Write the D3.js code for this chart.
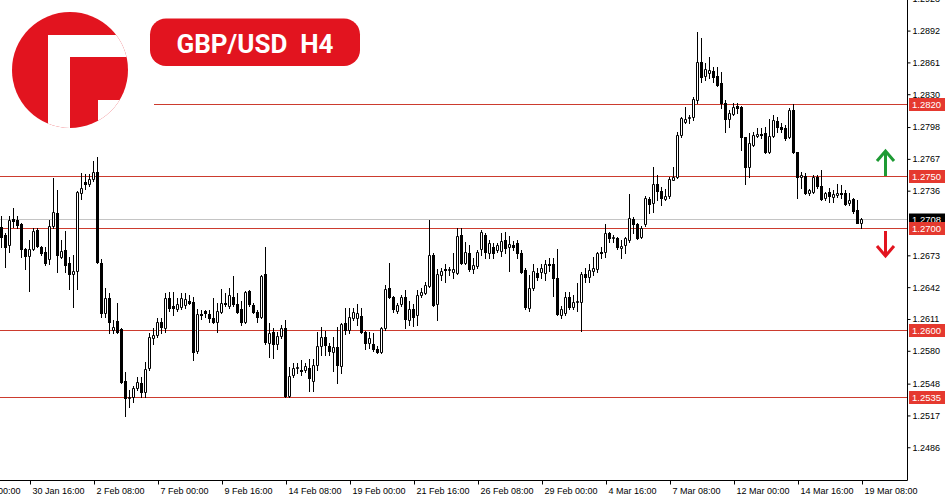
<!DOCTYPE html>
<html><head><meta charset="utf-8">
<script src="https://cdn.jsdelivr.net/npm/d3@7"></script>
<style>html,body{margin:0;padding:0;background:#fff;overflow:hidden}</style>
</head><body>
<svg id="chart" width="950" height="500"></svg>
<script>
const title = "GBP/USD  H4";
const firstBarTime = "29 Jan 12:00";
const open = [
1.2701,1.2693,1.2683,1.2708,1.2707,1.2704,1.2679,1.2672,1.2679,1.2698,
1.2681,1.2676,1.2669,1.2702,1.2714,1.2671,1.2678,1.2666,1.2655,1.2658,
1.2734,1.2744,1.2743,1.2747,1.2754,1.2666,1.2617,1.2631,1.2600,1.2609,
1.2601,1.2551,1.2534,1.2535,1.2544,1.2549,1.2540,1.2563,1.2592,1.2595,
1.2608,1.2602,1.2631,1.2624,1.2621,1.2623,1.2625,1.2629,1.2628,1.2580,
1.2616,1.2619,1.2616,1.2612,1.2608,1.2618,1.2627,1.2624,1.2632,1.2626,
1.2621,1.2608,1.2638,1.2625,1.2618,1.2613,1.2655,1.2588,1.2598,1.2587,
1.2594,1.2602,1.2536,1.2556,1.2563,1.2561,1.2561,1.2563,1.2551,1.2566,
1.2585,1.2593,1.2585,1.2579,1.2584,1.2565,1.2607,1.2600,1.2612,1.2612,
1.2614,1.2598,1.2588,1.2587,1.2582,1.2579,1.2602,1.2641,1.2632,1.2619,
1.2626,1.2632,1.2610,1.2621,1.2615,1.2634,1.2636,1.2643,1.2673,1.2626,
1.2654,1.2660,1.2659,1.2657,1.2656,1.2693,1.2666,1.2675,1.2660,1.2663,
1.2679,1.2693,1.2675,1.2681,1.2678,1.2677,1.2688,1.2681,1.2683,1.2685,
1.2675,1.2659,1.2622,1.2641,1.2656,1.2657,1.2656,1.2665,1.2665,1.2651,
1.2615,1.2617,1.2632,1.2623,1.2628,1.2628,1.2655,1.2652,1.2658,1.2660,
1.2676,1.2676,1.2695,1.2690,1.2690,1.2680,1.2683,1.2688,1.2708,1.2704,
1.2691,1.2704,1.2728,1.2724,1.2743,1.2736,1.2728,1.2731,1.2746,1.2749,
1.2790,1.2803,1.2807,1.2808,1.2824,1.2861,1.2848,1.2851,1.2853,1.2848,
1.2841,1.2821,1.2806,1.2811,1.2819,1.2818,1.2788,1.2759,1.2781,1.2789,
1.2791,1.2792,1.2774,1.2789,1.2804,1.2798,1.2797,1.2788,1.2815,1.2774,
1.2749,1.2750,1.2734,1.2735,1.2749,1.2741,1.2729,1.2735,1.2730,1.2732,
1.2734,1.2734,1.2724,1.2728,1.2717,1.2705];
const high = [
1.2711,1.2695,1.2711,1.2719,1.2711,1.2705,1.2680,1.2688,1.2700,1.2700,
1.2682,1.2681,1.2707,1.2748,1.2737,1.2688,1.2697,1.2671,1.2673,1.2736,
1.2753,1.2752,1.2752,1.2765,1.2769,1.2669,1.2641,1.2636,1.2610,1.2627,
1.2602,1.2559,1.2542,1.2546,1.2554,1.2554,1.2569,1.2597,1.2602,1.2612,
1.2612,1.2636,1.2637,1.2637,1.2631,1.2636,1.2636,1.2634,1.2632,1.2621,
1.2620,1.2620,1.2620,1.2631,1.2627,1.2640,1.2636,1.2641,1.2653,1.2636,
1.2629,1.2638,1.2639,1.2627,1.2620,1.2654,1.2681,1.2607,1.2602,1.2598,
1.2605,1.2610,1.2564,1.2568,1.2568,1.2571,1.2568,1.2572,1.2572,1.2598,
1.2603,1.2599,1.2588,1.2593,1.2603,1.2607,1.2622,1.2622,1.2622,1.2626,
1.2622,1.2599,1.2598,1.2597,1.2585,1.2603,1.2644,1.2666,1.2633,1.2627,
1.2634,1.2639,1.2629,1.2626,1.2639,1.2641,1.2647,1.2707,1.2675,1.2660,
1.2661,1.2665,1.2662,1.2675,1.2700,1.2700,1.2686,1.2683,1.2670,1.2678,
1.2698,1.2695,1.2688,1.2685,1.2685,1.2695,1.2696,1.2692,1.2687,1.2688,
1.2678,1.2661,1.2654,1.2665,1.2661,1.2665,1.2668,1.2670,1.2670,1.2679,
1.2624,1.2637,1.2637,1.2634,1.2646,1.2657,1.2661,1.2665,1.2671,1.2676,
1.2681,1.2704,1.2696,1.2693,1.2691,1.2688,1.2691,1.2733,1.2710,1.2705,
1.2702,1.2731,1.2730,1.2759,1.2751,1.2740,1.2738,1.2749,1.2759,1.2793,
1.2808,1.2818,1.2810,1.2827,1.2891,1.2885,1.2860,1.2866,1.2857,1.2857,
1.2852,1.2824,1.2815,1.2821,1.2821,1.2819,1.2788,1.2792,1.2793,1.2797,
1.2797,1.2798,1.2806,1.2810,1.2808,1.2802,1.2800,1.2817,1.2820,1.2774,
1.2754,1.2753,1.2738,1.2751,1.2751,1.2756,1.2735,1.2739,1.2737,1.2743,
1.2742,1.2737,1.2734,1.2729,1.2727,1.2709];
const low = [
1.2681,1.2662,1.2676,1.2701,1.2700,1.2671,1.2660,1.2638,1.2678,1.2681,
1.2673,1.2664,1.2665,1.2700,1.2657,1.2670,1.2657,1.2640,1.2623,1.2640,
1.2728,1.2738,1.2741,1.2745,1.2666,1.2613,1.2613,1.2597,1.2597,1.2597,
1.2549,1.2516,1.2525,1.2530,1.2542,1.2535,1.2535,1.2561,1.2587,1.2593,
1.2597,1.2598,1.2619,1.2615,1.2619,1.2621,1.2622,1.2626,1.2571,1.2578,
1.2611,1.2613,1.2608,1.2607,1.2598,1.2617,1.2624,1.2622,1.2624,1.2617,
1.2605,1.2607,1.2624,1.2617,1.2608,1.2612,1.2587,1.2574,1.2573,1.2582,
1.2592,1.2535,1.2535,1.2554,1.2558,1.2556,1.2559,1.2541,1.2541,1.2561,
1.2576,1.2576,1.2576,1.2560,1.2549,1.2558,1.2596,1.2597,1.2610,1.2605,
1.2597,1.2582,1.2583,1.2580,1.2578,1.2578,1.2600,1.2631,1.2618,1.2617,
1.2624,1.2602,1.2605,1.2604,1.2605,1.2632,1.2635,1.2642,1.2624,1.2610,
1.2649,1.2647,1.2654,1.2651,1.2655,1.2665,1.2665,1.2658,1.2656,1.2661,
1.2673,1.2670,1.2670,1.2670,1.2676,1.2672,1.2675,1.2658,1.2678,1.2670,
1.2656,1.2621,1.2619,1.2639,1.2649,1.2651,1.2649,1.2658,1.2633,1.2615,
1.2612,1.2615,1.2621,1.2621,1.2619,1.2599,1.2647,1.2647,1.2654,1.2657,
1.2670,1.2671,1.2686,1.2686,1.2679,1.2670,1.2675,1.2686,1.2695,1.2689,
1.2690,1.2702,1.2714,1.2715,1.2727,1.2722,1.2727,1.2729,1.2746,1.2748,
1.2788,1.2802,1.2802,1.2805,1.2821,1.2842,1.2844,1.2846,1.2842,1.2838,
1.2817,1.2793,1.2798,1.2810,1.2812,1.2776,1.2743,1.2749,1.2780,1.2788,
1.2787,1.2773,1.2773,1.2788,1.2793,1.2793,1.2785,1.2787,1.2773,1.2729,
1.2739,1.2733,1.2732,1.2734,1.2739,1.2727,1.2727,1.2725,1.2725,1.2730,
1.2729,1.2722,1.2722,1.2714,1.2705,1.2700];
const close = [
1.2691,1.2681,1.2707,1.2706,1.2703,1.2679,1.2672,1.2679,1.2697,1.2682,
1.2675,1.2666,1.2702,1.2715,1.2673,1.2677,1.2664,1.2655,1.2658,1.2735,
1.2739,1.2743,1.2747,1.2754,1.2667,1.2617,1.2631,1.2608,1.2603,1.2598,
1.2550,1.2534,1.2535,1.2544,1.2550,1.2540,1.2562,1.2593,1.2595,1.2608,
1.2603,1.2631,1.2622,1.2622,1.2626,1.2631,1.2630,1.2627,1.2579,1.2616,
1.2615,1.2617,1.2612,1.2608,1.2619,1.2627,1.2626,1.2634,1.2626,1.2618,
1.2608,1.2637,1.2626,1.2618,1.2613,1.2653,1.2589,1.2597,1.2587,1.2594,
1.2602,1.2536,1.2555,1.2563,1.2564,1.2560,1.2565,1.2553,1.2566,1.2585,
1.2593,1.2586,1.2580,1.2584,1.2566,1.2606,1.2600,1.2613,1.2618,1.2617,
1.2598,1.2588,1.2592,1.2582,1.2579,1.2602,1.2640,1.2632,1.2621,1.2625,
1.2632,1.2611,1.2621,1.2613,1.2634,1.2637,1.2644,1.2673,1.2625,1.2655,
1.2658,1.2659,1.2660,1.2660,1.2692,1.2666,1.2676,1.2660,1.2664,1.2676,
1.2696,1.2676,1.2685,1.2675,1.2683,1.2687,1.2680,1.2684,1.2681,1.2675,
1.2657,1.2623,1.2641,1.2658,1.2652,1.2661,1.2665,1.2664,1.2651,1.2616,
1.2621,1.2632,1.2623,1.2628,1.2629,1.2655,1.2652,1.2659,1.2661,1.2675,
1.2675,1.2695,1.2690,1.2691,1.2681,1.2682,1.2690,1.2709,1.2704,1.2690,
1.2700,1.2729,1.2723,1.2743,1.2736,1.2729,1.2731,1.2747,1.2749,1.2790,
1.2807,1.2806,1.2808,1.2825,1.2861,1.2847,1.2855,1.2854,1.2847,1.2839,
1.2821,1.2806,1.2812,1.2818,1.2817,1.2788,1.2759,1.2782,1.2790,1.2791,
1.2790,1.2774,1.2789,1.2805,1.2798,1.2796,1.2787,1.2815,1.2774,1.2749,
1.2751,1.2734,1.2737,1.2749,1.2741,1.2728,1.2734,1.2731,1.2733,1.2734,
1.2733,1.2723,1.2727,1.2716,1.2705,1.2708];
const priceTicks = [1.2923,1.2892,1.2861,1.2830,1.2798,1.2767,1.2736,1.2673,1.2642,1.2611,1.2580,1.2548,1.2517,1.2486];
const timeTicks = ["26 Jan 00:00","30 Jan 16:00","2 Feb 08:00","7 Feb 00:00","9 Feb 16:00","14 Feb 08:00","19 Feb 00:00","21 Feb 16:00","26 Feb 08:00","29 Feb 00:00","4 Mar 16:00","7 Mar 08:00","12 Mar 00:00","14 Mar 16:00","19 Mar 08:00"];
const levels = [1.2820, 1.2750, 1.2700, 1.2600, 1.2535];
const currentPrice = 1.2708;

const W = 950, H = 500, plotRight = 907, plotBottom = 480;
const RED = "#e2141f", LEVEL = "#cc3b2e", LABEL = "#e5392f", GREEN = "#1e9a34";
const FONT = "'Liberation Sans', Arial, sans-serif";

const svg = d3.select("#chart");
svg.append("rect").attr("width", W).attr("height", H).attr("fill", "#fff");
const defs = svg.append("defs");
defs.append("clipPath").attr("id", "plotclip").append("rect")
  .attr("x", 0).attr("y", 0).attr("width", plotRight).attr("height", plotBottom);

// scales
const y = d3.scaleLinear().domain([1.24541, 1.29218]).range([plotBottom, 0]);
function h4Weekdays(start, n) {
  const out = []; let t = new Date(start);
  while (out.length < n) { const d = t.getDay(); if (d !== 0 && d !== 6) out.push(new Date(t)); t = d3.timeHour.offset(t, 4); }
  return out;
}
const fmt = d3.timeFormat("%-d %b %H:%M");
const slots = h4Weekdays(new Date(2024, 0, 26, 0), 260);
const slotLabels = slots.map(fmt);
const i0 = slotLabels.indexOf(firstBarTime);
const N = close.length;
const x = d3.scaleLinear().domain([i0, i0 + N - 1]).range([1.5, 861.5]);
const py = v => Math.round(y(v));
const cx = i => Math.round(x(i) - 0.5) + 0.5;

const bars = d3.range(N).map(j => ({ i: i0 + j, o: open[j], h: high[j], l: low[j], c: close[j] }));

const plot = svg.append("g").attr("clip-path", "url(#plotclip)");

// current price line
plot.append("line").attr("x1", 0).attr("x2", plotRight)
  .attr("y1", py(currentPrice) + 0.5).attr("y2", py(currentPrice) + 0.5)
  .attr("stroke", "#c4c4c4").attr("stroke-width", 1);

// level lines (the top one starts right of the header banner)
plot.selectAll("line.level").data(levels).join("line").attr("class", "level")
  .attr("x1", d => py(d) < 130 ? 154 : 0).attr("x2", plotRight)
  .attr("y1", d => py(d) + 0.5).attr("y2", d => py(d) + 0.5)
  .attr("stroke", LEVEL).attr("stroke-width", 1);

// wicks
plot.selectAll("line.wick").data(bars).join("line").attr("class", "wick")
  .attr("x1", d => cx(d.i)).attr("x2", d => cx(d.i))
  .attr("y1", d => py(d.h)).attr("y2", d => py(d.l) + 1)
  .attr("stroke", "#000").attr("stroke-width", 1);

// bodies
plot.selectAll("path.body").data(bars).join("path").attr("class", "body")
  .attr("d", d => {
    const c = cx(d.i);
    if (d.c >= d.o) {
      const t = py(d.c) + 0.5, b = py(d.o) + 0.5;
      return `M${c - 1},${t}H${c + 1}V${b}H${c - 1}Z`;
    } else {
      const t = py(d.o), b = py(d.c) + 1;
      return `M${c - 1.5},${t}H${c + 1.5}V${b}H${c - 1.5}Z`;
    }
  })
  .attr("fill", d => d.c >= d.o ? "#fff" : "#000")
  .attr("stroke", d => d.c >= d.o ? "#000" : "none")
  .attr("stroke-width", 1);

// axes
const yAxis = d3.axisRight(y).tickValues(priceTicks).tickFormat(d3.format(".4f"))
  .tickSize(3).tickSizeOuter(0).tickPadding(2);
const gy = svg.append("g").attr("transform", `translate(${plotRight + 0.5},0)`).call(yAxis);
gy.select(".domain").remove();
gy.selectAll("text").attr("font-family", FONT).attr("font-size", 9).attr("fill", "#000");
gy.selectAll("line").attr("stroke", "#000");

const tickIdx = timeTicks.map(t => slotLabels.indexOf(t));
const xAxis = d3.axisBottom(x).tickValues(tickIdx).tickFormat(i => slotLabels[i])
  .tickSize(4).tickSizeOuter(0).tickPadding(3);
const gx = svg.append("g").attr("transform", `translate(0,${plotBottom + 0.5})`).call(xAxis);
gx.select(".domain").remove();
gx.selectAll(".tick").attr("transform", function () {
  const m = /translate\(([-\d.]+)/.exec(this.getAttribute("transform"));
  return `translate(${Math.round(+m[1] - 0.5) + 0.5},0)`;
});
gx.selectAll("text").attr("font-family", FONT).attr("font-size", 9).attr("fill", "#000")
  .attr("text-anchor", "start").attr("x", 2);
gx.selectAll("line").attr("stroke", "#000");

// frame
svg.append("path").attr("d", `M0,${plotBottom + 0.5}H${plotRight + 0.5}V0`)
  .attr("fill", "none").attr("stroke", "#000").attr("stroke-width", 1);

// price labels on axis
function priceTag(v, color, h) {
  const yy = py(v) + 0.5;
  const g = svg.append("g");
  g.append("rect").attr("x", plotRight + 2).attr("y", yy - h / 2).attr("width", 36).attr("height", h).attr("fill", color);
  g.append("text").attr("x", plotRight + 5).attr("y", yy + 3.3).text(d3.format(".4f")(v))
    .attr("font-family", FONT).attr("font-size", 9.5).attr("fill", "#fff");
}
priceTag(currentPrice, "#000", 12);
levels.forEach(v => priceTag(v, LABEL, 13));

// arrows
const ax = 885.5;
const upBase = py(levels[1]);
svg.append("path").attr("d", `M${ax},${upBase}V${upBase - 25}M${ax - 8.5},${upBase - 15}L${ax},${upBase - 25}L${ax + 8.5},${upBase - 15}`)
  .attr("fill", "none").attr("stroke", GREEN).attr("stroke-width", 3);
const dnTop = py(levels[2]) + 3;
svg.append("path").attr("d", `M${ax},${dnTop}V${dnTop + 25}M${ax - 8.5},${dnTop + 15}L${ax},${dnTop + 25}L${ax + 8.5},${dnTop + 15}`)
  .attr("fill", "none").attr("stroke", RED).attr("stroke-width", 3);

// logo
const logoClip = defs.append("clipPath").attr("id", "logoclip");
logoClip.append("circle").attr("cx", 70).attr("cy", 70).attr("r", 58);
const logo = svg.append("g").attr("clip-path", "url(#logoclip)");
logo.append("rect").attr("x", 0).attr("y", 0).attr("width", 140).attr("height", 140).attr("fill", RED);
logo.append("rect").attr("x", 48).attr("y", 35).attr("width", 22).attr("height", 100).attr("fill", "#fff");
logo.append("rect").attr("x", 48).attr("y", 35).attr("width", 90).attr("height", 22).attr("fill", "#fff");
logo.append("rect").attr("x", 98).attr("y", 100).attr("width", 40).attr("height", 40).attr("fill", "#fff");

// title pill
svg.append("rect").attr("x", 150).attr("y", 18.5).attr("width", 210).attr("height", 47.5).attr("rx", 16).attr("fill", RED);
svg.append("text").attr("x", 255).attr("y", 52.5).attr("text-anchor", "middle")
  .attr("font-family", "Roboto, 'Liberation Sans', Arial, sans-serif").attr("font-weight", 700)
  .attr("font-size", 26).attr("fill", "#fff").style("white-space", "pre").text(title);
</script>
</body></html>
